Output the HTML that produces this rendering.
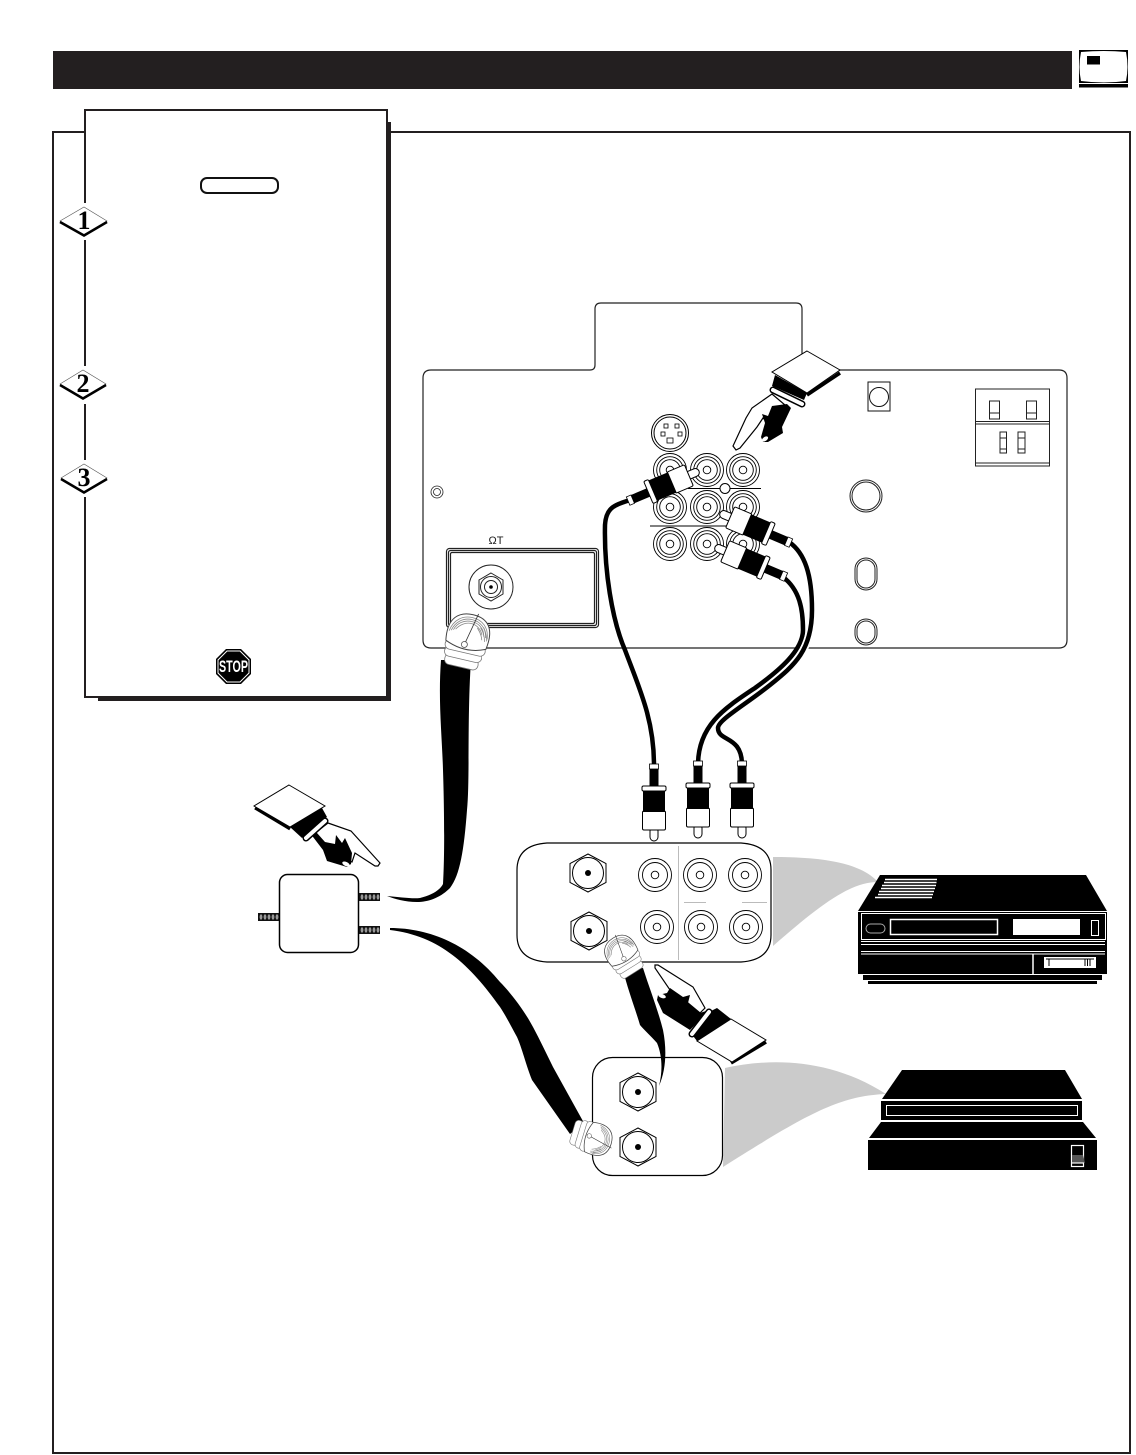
<!DOCTYPE html>
<html><head><meta charset="utf-8"><style>
html,body{margin:0;padding:0;background:#fff}
svg{display:block}
</style></head><body>
<svg width="1136" height="1455" viewBox="0 0 1136 1455" xmlns="http://www.w3.org/2000/svg">
<defs>
<g id="plug">
<rect x="-4" y="-14" width="8" height="14" rx="4" fill="#fff" stroke="#000" stroke-width="1"/>
<rect x="-11.5" y="-30" width="23" height="19" rx="1.5" fill="#fff" stroke="#000" stroke-width="1"/>
<rect x="-11" y="-50" width="22" height="21" fill="#000"/>
<rect x="-12" y="-55" width="24" height="5" rx="1.5" fill="#fff" stroke="#000" stroke-width="1"/>
<rect x="-4.5" y="-72" width="9" height="17" fill="#000"/>
<rect x="-4.5" y="-77" width="9" height="5" fill="#fff" stroke="#000" stroke-width=".8"/>
</g>
<g id="rca" fill="none" stroke="#000" stroke-width=".9">
<circle r="16.5" fill="#fff"/><circle r="12.5"/><circle r="3.8"/>
</g>
<g id="rca3" fill="none" stroke="#000" stroke-width=".9">
<circle r="16.5" fill="#fff"/><circle r="13.300"/><circle r="10.300"/><circle r="3.8"/>
</g>
<g id="hex">
<polygon points="0,-19 18,-9.5 18,9.5 0,19 -18,9.5 -18,-9.5" fill="#fff" stroke="#000" stroke-width="1"/>
<circle r="15.5" fill="#fff" stroke="#000" stroke-width="1"/>
<circle r="3" fill="#000"/>
</g>
<g id="coax">
<rect x="-18" y="15" width="34" height="11" rx="5" fill="#fff" stroke="#777" stroke-width=".8"/>
<rect x="-20" y="8" width="38" height="10" rx="5" fill="#fff" stroke="#777" stroke-width=".8"/>
<rect x="-21" y="1" width="41" height="10" rx="5" fill="#fff" stroke="#777" stroke-width=".8"/>
<path d="M-21 3C-25-20-14-28 0-28C14-28 24-20 20 3Q0 12-21 3Z" fill="#fff" stroke="#444" stroke-width="1"/>
<g fill="none" stroke="#888" stroke-width=".8">
<path d="M-20-7C-18-19-10-25 0-25C10-25 18-19 19-7"/>
<path d="M-18-8C-16-17-9-23 0-23C9-23 16-17 17-8"/>
<path d="M-16-9C-14-16-8-21 0-21C8-21 14-16 15-9"/>
<path d="M-14-10C-11-15-6-19 0-19C6-19 11-15 13-10"/>
<path d="M19-5C18-10 16-14 13-18M17-4C16-9 14-13 10-17M14-5C13-9 11-12 7-16"/>
</g>
<path d="M-2 3L5-30" stroke="#333" stroke-width=".8"/>
<circle cx="-2" cy="3" r="3" fill="#fff" stroke="#555" stroke-width=".8"/>
</g>
<g id="stud">
<rect x="0" y="0" width="21" height="8" fill="#111"/>
<g fill="#999"><ellipse cx="3" cy="4" rx="1.4" ry="2.7"/><ellipse cx="7" cy="4" rx="1.4" ry="2.7"/><ellipse cx="11" cy="4" rx="1.4" ry="2.7"/><ellipse cx="15" cy="4" rx="1.4" ry="2.7"/><ellipse cx="19" cy="4" rx="1.4" ry="2.7"/></g>
</g>
</defs>

<!-- header -->
<rect x="53" y="51" width="1019" height="38" fill="#231f20"/>
<rect x="1079" y="84" width="49" height="3.5" fill="#000"/>
<rect x="1079" y="50" width="49" height="33" fill="#000"/>
<path d="M1081 52Q1104 50 1126 52Q1129 67 1126 81Q1104 84 1081 81Q1078 67 1081 52Z" fill="#fff"/>
<rect x="1087" y="56" width="13" height="8.5" fill="#000"/>

<!-- main frame -->
<rect x="53" y="132" width="1077" height="1321" fill="#fff" stroke="#231f20" stroke-width="2"/>

<!-- side panel -->
<rect x="98" y="122" width="293" height="579" fill="#231f20"/>
<rect x="85" y="110" width="302" height="587" fill="#fff" stroke="#231f20" stroke-width="2"/>
<rect x="201" y="178" width="77" height="15" rx="6" fill="#fff" stroke="#111" stroke-width="2"/>

<!-- diamonds -->
<g font-family="'Liberation Serif',serif" font-weight="bold" font-size="26" text-anchor="middle">
<rect x="82" y="203" width="6" height="37" fill="#fff"/>
<rect x="82" y="366" width="6" height="38" fill="#fff"/>
<rect x="82" y="460" width="6" height="37" fill="#fff"/>
<polygon points="60,221 84,207 107,221 84,235" fill="#fff" stroke="#555" stroke-width=".6"/>
<path d="M60 222L84 235.500L107 222" fill="none" stroke="#000" stroke-width="2.500"/>
<text x="84" y="229">1</text>
<polygon points="60,384 83,370 106,384 83,398" fill="#fff" stroke="#555" stroke-width=".6"/>
<path d="M60 385L83 398.500L106 385" fill="none" stroke="#000" stroke-width="2.500"/>
<text x="83" y="392">2</text>
<polygon points="61,478 84,464 107,478 84,492" fill="#fff" stroke="#555" stroke-width=".6"/>
<path d="M61 479L84 492.500L107 479" fill="none" stroke="#000" stroke-width="2.500"/>
<text x="84" y="486">3</text>
</g>

<!-- stop -->
<polygon points="226,649 241,649 251,659 251,674 241,684 226,684 216,674 216,659" fill="#000"/>
<polygon points="227,651 240,651 249,660 249,673 240,682 227,682 218,673 218,660" fill="none" stroke="#fff" stroke-width="1"/>
<text x="233.5" y="672" font-family="'Liberation Sans',sans-serif" font-weight="bold" font-size="17" fill="#fff" text-anchor="middle" textLength="29" lengthAdjust="spacingAndGlyphs">STOP</text>

<!-- TV back panel -->
<path d="M431 370H590Q595 370 595 365V309Q595 303 601 303H796Q802 303 802 309V365Q802 370 807 370H1059Q1067 370 1067 378V640Q1067 648 1059 648H431Q423 648 423 640V378Q423 370 431 370Z" fill="#fff" stroke="#222" stroke-width="1.2"/>
<circle cx="437" cy="492" r="6" fill="none" stroke="#222" stroke-width=".8"/>
<circle cx="437" cy="492" r="3.5" fill="none" stroke="#222" stroke-width=".8"/>
<rect x="868" y="382" width="22" height="29" fill="none" stroke="#111" stroke-width="1"/>
<circle cx="879" cy="397" r="9.5" fill="none" stroke="#111" stroke-width="1"/>
<g fill="none" stroke="#222" stroke-width="1">
<rect x="975.5" y="389" width="74" height="77"/>
<path d="M975 421.5H1049M975 424H1049M975 463H1049"/>
<rect x="989.500" y="401" width="10" height="18"/><path d="M990 413H999"/>
<rect x="1026.500" y="401" width="10" height="18"/><path d="M1027 413H1036"/>
<rect x="1000" y="432" width="6.500" height="21"/><path d="M1000 438H1006M1000 449H1006"/>
<rect x="1018" y="432" width="7" height="21"/><path d="M1018 438H1025M1018 449H1025"/>
<circle cx="866" cy="496" r="16"/><circle cx="866" cy="496" r="14"/>
<rect x="855" y="558" width="22" height="32" rx="11"/><rect x="857" y="560" width="18" height="28" rx="9"/>
<rect x="855" y="619" width="22" height="26" rx="11"/><rect x="857" y="621" width="18" height="22" rx="9"/>
<rect x="446.500" y="548.500" width="152" height="79" rx="3" stroke-width="1.200"/>
<rect x="448.500" y="550.500" width="148" height="75" rx="2" stroke-width="1.200"/>
<rect x="450.500" y="552.500" width="144" height="71" rx="1.500" stroke-width="1.200"/>
<circle cx="491" cy="587" r="22"/>
<polygon points="491,573 503,580 503,594 491,601 479,594 479,580"/>
<circle cx="491" cy="587" r="10.500"/><circle cx="491" cy="587" r="6.500"/>
</g>
<circle cx="491" cy="587" r="1.800" fill="#000"/>
<text x="496" y="544" font-family="'Liberation Sans',sans-serif" font-size="11" text-anchor="middle" fill="#222">ΩT</text>

<!-- jacks -->
<circle cx="670" cy="433" r="18.500" fill="#fff" stroke="#000" stroke-width="1"/>
<circle cx="670" cy="433" r="16" fill="none" stroke="#000" stroke-width="1"/>
<g fill="#fff" stroke="#000" stroke-width=".8">
<rect x="664" y="424" width="4" height="4"/><rect x="675" y="424" width="4" height="4"/>
<rect x="661" y="432" width="4" height="4"/><rect x="678" y="432" width="4" height="4"/>
<rect x="667" y="438" width="6" height="5"/>
</g>
<use href="#rca3" x="670" y="470"/><use href="#rca3" x="707" y="470"/><use href="#rca3" x="743" y="470"/>
<use href="#rca3" x="670" y="507"/><use href="#rca3" x="707" y="507"/><use href="#rca3" x="743" y="507"/>
<use href="#rca3" x="670" y="544"/><use href="#rca3" x="707" y="544"/><use href="#rca3" x="743" y="544"/>
<path d="M688 488.500H761M650 526H730" stroke="#000" stroke-width="1" fill="none"/>
<circle cx="725" cy="488.500" r="5" fill="#fff" stroke="#000" stroke-width="1"/>

<!-- RCA cables -->
<g fill="none" stroke-linecap="round">
<path d="M630 500C615 505 606 507 605 525C604 570 612 620 625 650C640 690 654 720 654 765" stroke="#000" stroke-width="4.500"/>
<path d="M783 577C800 590 803 610 803 630C803 650 780 670 755 688C725 708 698 725 698 765" stroke="#000" stroke-width="4.500"/>
<path d="M789 542C805 553 812 575 812 610C812 650 795 665 770 685C745 705 718 720 718 728C718 742 742 735 742 765" stroke="#fff" stroke-width="8"/>
<path d="M789 542C805 553 812 575 812 610C812 650 795 665 770 685C745 705 718 720 718 728C718 742 742 735 742 765" stroke="#000" stroke-width="4.500"/>
</g>
<use href="#plug" transform="translate(699,471) rotate(-113)"/>
<use href="#plug" transform="translate(720,513) rotate(113)"/>
<use href="#plug" transform="translate(715,547) rotate(113)"/>

<!-- hand 1 -->
<path d="M772 394L752 408L746 418L733 446L736 450L740 448L757 427L763 418L770 425L785 405Z" fill="#fff" stroke="#000" stroke-width="1.200"/>
<path d="M787 404L791 408L782 427L783 433L768 442L763 442L761 437L765 423L762 414L768 416L772 406Z" fill="#000"/>
<ellipse cx="765" cy="439" rx="3.500" ry="2" transform="rotate(-35 765 439)" fill="#fff"/>
<path d="M773 390L802 404" stroke="#000" stroke-width="7" stroke-linecap="round"/>
<path d="M773 390L802 404" stroke="#fff" stroke-width="4" stroke-linecap="round"/>
<polygon points="775,375 807,393 804,400 772,386" fill="#000"/>
<path d="M807 395L840 373" stroke="#000" stroke-width="3.500"/>
<polygon points="807,351 840,370 807,393 772,372" fill="#fff" stroke="#000" stroke-width="1"/>

<!-- top coax -->
<path d="M441 660L471 660C467 720 470 780 467 810C464 850 460 875 450 888C440 898 428 902 417 902C405 902 395 899 387 896C400 897 412 899 420 898C432 895 440 890 443 884C445 850 444 800 443 770C442 735 438 700 441 660Z" fill="#000"/>
<use href="#coax" transform="translate(467,642) rotate(13)"/>

<!-- splitter -->
<rect x="279.500" y="874.500" width="79" height="78" rx="8" fill="#fff" stroke="#000" stroke-width="1.500"/>
<use href="#stud" x="359" y="893"/><use href="#stud" x="359" y="926"/><use href="#stud" x="258" y="913"/>

<!-- hand 2 -->
<path d="M328 823L351 831L380 863L378 866L375 866L355 853L352 862L330 855L315 833Z" fill="#fff" stroke="#000" stroke-width="1.200"/>
<path d="M310 833L317 833L325 842L335 844L336 835L342 843L345 838L352 853L351 864L347 867L327 861L323 850Z" fill="#000"/>
<ellipse cx="346" cy="864" rx="4" ry="2" transform="rotate(25 346 864)" fill="#fff"/>
<polygon points="290,827 322,808 327,817 302,838" fill="#000"/>
<path d="M306 838L325 821" stroke="#000" stroke-width="7" stroke-linecap="round"/>
<path d="M306 838L325 821" stroke="#fff" stroke-width="4" stroke-linecap="round"/>
<path d="M255 808L290 829" stroke="#000" stroke-width="3"/>
<polygon points="289,785 325,806 290,827 254,806" fill="#fff" stroke="#000" stroke-width="1"/>

<!-- gray wedges -->
<path d="M773 857C820 857 860 862 878 882C850 882 820 905 773 946Z" fill="#cbcbcb"/>
<path d="M725 1068C770 1058 830 1058 886 1094C840 1096 810 1112 723 1167Z" fill="#cbcbcb"/>

<!-- upper device panel -->
<path d="M547 843H741Q771 845 771 870V935Q771 960 741 962H547Q517 960 517 935V870Q517 845 547 843Z" fill="#fff" stroke="#000" stroke-width="1.200"/>
<path d="M678.500 846V960" stroke="#bbb" stroke-width="1"/>
<path d="M684 902.500H706M742 902.500H767" stroke="#bbb" stroke-width="1"/>
<use href="#hex" x="588" y="873"/><use href="#hex" x="589" y="931"/>
<use href="#rca" x="655" y="875"/><use href="#rca" x="700" y="875"/><use href="#rca" x="745" y="875"/>
<use href="#rca" x="657" y="927"/><use href="#rca" x="701" y="927"/><use href="#rca" x="746" y="927"/>

<!-- plugs into device -->
<use href="#plug" x="654" y="841"/><use href="#plug" x="698" y="838"/><use href="#plug" x="742" y="838"/>

<!-- lower device panel -->
<rect x="592.500" y="1057.500" width="130" height="118" rx="20" fill="#fff" stroke="#000" stroke-width="1.200"/>
<use href="#hex" x="638" y="1092"/><use href="#hex" x="638" y="1147"/>

<!-- coax middle -->
<path d="M623 970L643 968C650 990 658 1010 663 1030C667 1050 666 1070 659 1086C663 1070 662 1055 657 1043C650 1035 644 1030 640 1025C634 1005 628 990 623 970Z" fill="#000"/>
<use href="#coax" transform="translate(624,956) rotate(-32) scale(.75)"/>

<!-- hand 3 -->
<path d="M655 965L658 965L693 987L705 1008L700 1013L688 1003L670 990L655 968Z" fill="#fff" stroke="#000" stroke-width="1.200"/>
<path d="M658 995L667 993L670 988L683 997L690 995L688 1003L700 1013L709 1010L690 1030L663 1013L657 1000Z" fill="#000"/>
<ellipse cx="662" cy="996" rx="4" ry="2" transform="rotate(20 662 996)" fill="#fff"/>
<polygon points="703,1015 717,1008 731,1019 697,1041 690,1032" fill="#000"/>
<path d="M709 1012L692 1034" stroke="#000" stroke-width="7" stroke-linecap="round"/>
<path d="M709 1012L692 1034" stroke="#fff" stroke-width="4" stroke-linecap="round"/>
<path d="M731 1063L766 1042" stroke="#000" stroke-width="3.500"/>
<polygon points="731,1019 766,1040 732,1062 697,1041" fill="#fff" stroke="#000" stroke-width="1"/>

<!-- lower coax -->
<path d="M390 928C430 928 470 945 500 982C512 994 525 1012 533 1027C540 1040 546 1053 553 1067L584 1123L570 1134L532 1080C526 1065 522 1048 517 1037C512 1028 506 1016 500 1007C470 965 440 936 390 930Z" fill="#000"/>
<use href="#coax" transform="translate(591,1138) rotate(107) scale(.75)"/>

<!-- VCR -->
<polygon points="880,875 1086,875 1107,911 858,911" fill="#000"/>
<g stroke="#fff" stroke-width="1.500">
<path d="M885 879.500H937M884 882.500H936.500M882 885.500H936M881 888.500H935M879 891.500H934M878 894.500H933M875 897.500H932"/>
</g>
<rect x="858" y="912" width="249" height="62" fill="#000"/>
<rect x="863" y="975" width="239" height="5" fill="#000"/>
<rect x="868" y="981" width="229" height="3" fill="#000"/>
<g fill="none" stroke="#fff" stroke-width="1">
<rect x="861.500" y="913.500" width="244" height="26"/>
<path d="M861 941.500H1105M861 944.500H1105M861 951.500H1105M861 954H1105"/>
<rect x="890.500" y="919.500" width="107" height="15" stroke-width="1.500"/>
<rect x="1091.500" y="920.500" width="7" height="15"/>
<path d="M858 974.500H1107"/>
<path d="M1033 954V974" stroke-width="1.500"/>
</g>
<rect x="866" y="924" width="19" height="9" rx="4.500" fill="none" stroke="#aaa" stroke-width="1"/>
<rect x="1013" y="919" width="67" height="16" fill="#fff"/>
<rect x="1044" y="957" width="52" height="11" fill="#fff"/>
<path d="M1046 959H1094M1049 959V966M1085 959V966M1087.500 959V966M1090 959V966" stroke="#000" stroke-width="1" fill="none"/>

<!-- cable box -->
<polygon points="902,1070 1065,1070 1082,1099 882,1099" fill="#000"/>
<rect x="881" y="1101" width="201" height="19" fill="#000"/>
<rect x="886.500" y="1105.500" width="191" height="10" fill="none" stroke="#fff" stroke-width="1"/>
<polygon points="881,1122 1083,1122 1096,1138 869,1138" fill="#000"/>
<rect x="868" y="1140" width="229" height="30" fill="#000"/>
<rect x="1071.500" y="1145.500" width="12" height="21" fill="none" stroke="#fff" stroke-width="1.200"/>
<polygon points="1072,1155 1083,1155 1085,1163 1072,1163" fill="#555"/>
<path d="M1072 1163H1084" stroke="#fff" stroke-width="1.200"/>
</svg>
</body></html>
